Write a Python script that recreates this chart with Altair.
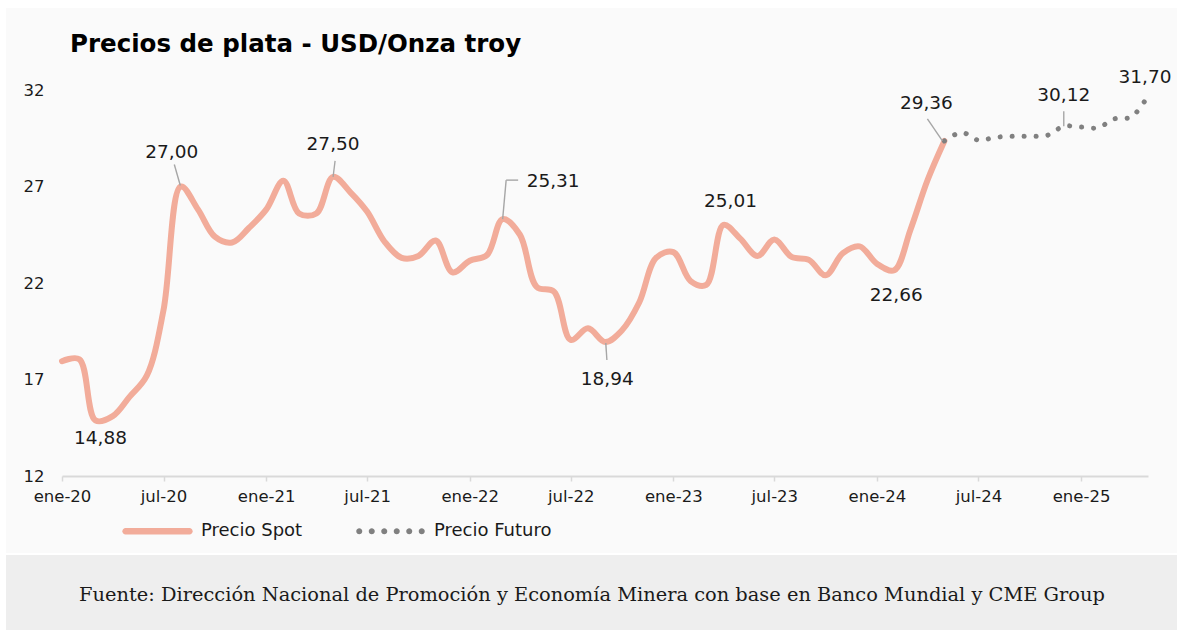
import altair as alt
import pandas as pd

# ---------------- data ----------------
spot_fechas = pd.date_range("2020-01-01", "2024-05-01", freq="MS").strftime("%Y-%m-%d").tolist()
spot_valores = [
    17.95, 18.05, 14.88, 15.10, 16.10, 17.20, 20.60, 27.00, 25.80, 24.40, 24.10, 24.85,  # 2020
    25.80, 27.30, 25.60, 25.60, 27.50, 26.70, 25.70, 24.15, 23.30, 23.40, 24.20, 22.55,  # 2021
    23.15, 23.45, 25.31, 24.50, 21.80, 21.55, 19.05, 19.65, 18.94, 19.55, 21.00, 23.30,  # 2022
    23.60, 22.10, 21.90, 25.01, 24.30, 23.40, 24.25, 23.35, 23.20, 22.40, 23.55, 23.90,  # 2023
    23.00, 22.66, 24.75, 27.35, 29.36,                                                  # 2024
]
futuro_fechas = pd.date_range("2024-05-01", "2025-05-01", freq="MS").strftime("%Y-%m-%d").tolist()
futuro_valores = [29.36, 29.80, 29.40, 29.55, 29.60, 29.60, 29.65, 30.12, 30.08, 30.05, 30.50, 30.60, 31.70]

series = ["Precio Spot", "Precio Futuro"]
y_ticks = [12, 17, 22, 27, 32]
x_tick_fechas = pd.date_range("2020-01-01", "2025-01-01", freq="6MS")
titulo = "Precios de plata - USD/Onza troy"
fuente = "Fuente: Dirección Nacional de Promoción y Economía Minera con base en Banco Mundial y CME Group"

# annotated points (date of the point)
ann_fechas = ["2020-03-01", "2020-08-01", "2021-05-01", "2022-03-01", "2022-09-01",
              "2023-04-01", "2024-02-01", "2024-05-01", "2024-12-01", "2025-05-01"]

df = pd.DataFrame({
    "fecha": spot_fechas + futuro_fechas,
    "valor": spot_valores + futuro_valores,
    "serie": [series[0]] * len(spot_fechas) + [series[1]] * len(futuro_fechas),
})
lookup = dict(zip(spot_fechas, spot_valores))
lookup.update({f: v for f, v in zip(futuro_fechas, futuro_valores) if f not in lookup})

# ---------------- style ----------------
FONT = "DejaVu Sans"
SPOT = "#F2AC9A"
FUT = "#808080"
LEAD = "#A6A6A6"
TXT = "#1A1A1A"
W, H = 1086, 386

x_scale = alt.Scale(type="utc", domain=[alt.DateTime(year=2020, month=1, date=1, utc=True),
                                        alt.DateTime(year=2025, month=5, date=1, utc=True)])
y_scale = alt.Scale(domain=[12, 32], nice=False, zero=False)

x_axis = alt.Axis(
    values=[alt.DateTime(year=d.year, month=d.month, date=1, utc=True) for d in x_tick_fechas],
    labelExpr="(utcmonth(datum.value) == 0 ? 'ene-' : 'jul-') + utcFormat(datum.value, '%y')",
    title=None, grid=False, domainColor="#D9D9D9", domainWidth=2, tickColor="#D9D9D9",
    tickWidth=1.5, tickSize=5, labelFontSize=16.5, labelFont=FONT, labelColor=TXT,
    labelPadding=7, labelFlush=False, labelOverlap=False, zindex=1,
)
y_axis = alt.Axis(values=y_ticks, title=None, grid=False, domain=False, ticks=False,
                  labelFontSize=16.5, labelFont=FONT, labelColor=TXT, labelPadding=18, zindex=1)

X = alt.X("fecha:T", scale=x_scale, axis=x_axis)
Y = alt.Y("valor:Q", scale=y_scale, axis=y_axis)

spot_line = alt.Chart(df).transform_filter(f"datum.serie == '{series[0]}'").mark_line(
    interpolate="catmull-rom", strokeCap="round", strokeJoin="round", color=SPOT, strokeWidth=6
).encode(x=X, y=Y)

fut_line = alt.Chart(df).transform_filter(f"datum.serie == '{series[1]}'").mark_line(
    interpolate="catmull-rom", strokeCap="round", strokeJoin="round", color=FUT, strokeWidth=5,
    strokeDash=[0.1, 11.9]
).encode(x=X, y=Y)

# legend symbols: a rounded bar and a row of dots (custom SVG paths)
r = 0.085
bar_path = "M-0.9,-0.09 L0.9,-0.09 A0.09,0.09 0 0,1 0.9,0.09 L-0.9,0.09 A0.09,0.09 0 0,1 -0.9,-0.09 Z"
dots_path = " ".join(
    f"M{c - r:.3f},0 A{r},{r} 0 1,0 {c + r:.3f},0 A{r},{r} 0 1,0 {c - r:.3f},0 Z"
    for c in [-0.88, -0.528, -0.176, 0.176, 0.528, 0.88]
)
leg = alt.Legend(title=None, orient="none", legendX=60, legendY=405.5, direction="horizontal",
                 symbolSize=5041, symbolOpacity=1, symbolStrokeWidth=0, labelFont=FONT,
                 labelFontSize=18, labelColor=TXT, labelOffset=8, columnPadding=52, padding=0)
legend_layer = alt.Chart(df).transform_filter("false").mark_point(filled=True, opacity=1).encode(
    x=alt.X("fecha:T", scale=x_scale), y=alt.Y("valor:Q", scale=y_scale),
    color=alt.Color("serie:N", scale=alt.Scale(domain=series, range=[SPOT, FUT]), legend=leg),
    shape=alt.Shape("serie:N", scale=alt.Scale(domain=series, range=[bar_path, dots_path]), legend=leg),
)

# decorative panels and free texts
one = pd.DataFrame({"k": [0]})
panel = alt.Chart(one).mark_rect(color="#FAFAFA").encode(
    x=alt.value(-56), x2=alt.value(W + 29), y=alt.value(-82), y2=alt.value(463))
footer_bg = alt.Chart(one).mark_rect(color="#EEEEEE").encode(
    x=alt.value(-56), x2=alt.value(W + 29), y=alt.value(465), y2=alt.value(540))
footer_txt = alt.Chart(one).mark_text(font="DejaVu Serif", fontSize=19.4, color=TXT,
                                      align="center", baseline="middle").encode(
    x=alt.value(530), y=alt.value(505), text=alt.value(fuente))
title_txt = alt.Chart(one).mark_text(font=FONT, fontSize=24.5, fontWeight="bold", color="#000000",
                                     align="left", baseline="alphabetic").encode(
    x=alt.value(8), y=alt.value(-38), text=alt.value(titulo))

# annotations: (dx, dy of label, align, leader segments as offsets from the point)
ann_style = {
    "2020-03-01": (5, 18, "center", []),
    "2020-08-01": (-9, -35, "center", [(-6.5, -22, -0.5, -1)]),
    "2021-05-01": (0, -33, "center", [(2, -16, 0, 0)]),
    "2022-03-01": (24, -38, "left", [(0, 0, 3.5, -39), (3.5, -39, 15.5, -39)]),
    "2022-09-01": (2, 37, "center", [(0.5, 1, 1.6, 18)]),
    "2023-04-01": (7, -23.5, "center", []),
    "2024-02-01": (2, 25, "center", []),
    "2024-05-01": (-18, -38, "center", [(-17, -22, -2, 0)]),
    "2024-12-01": (0, -31, "center", [(0, -15, 0, 0)]),
    "2025-05-01": (-3, -19, "center", []),
}

capas = [panel, footer_bg, footer_txt, title_txt, spot_line, fut_line, legend_layer]
for f in ann_fechas:
    v = lookup[f]
    d = pd.DataFrame({"fecha": [f], "valor": [v], "texto": [f"{v:.2f}".replace(".", ",")]})
    dx, dy, al, segs = ann_style[f]
    for (a, b, c, e) in segs:
        capas.append(alt.Chart(d).mark_rule(color=LEAD, strokeWidth=1.4, xOffset=a, yOffset=b,
                                            x2Offset=c, y2Offset=e).encode(
            x=alt.X("fecha:T", scale=x_scale), y=alt.Y("valor:Q", scale=y_scale),
            x2=alt.X2("fecha"), y2=alt.Y2("valor")))
    capas.append(alt.Chart(d).mark_text(font=FONT, fontSize=18.5, color=TXT, align=al,
                                        baseline="middle", dx=dx, dy=dy).encode(
        x=alt.X("fecha:T", scale=x_scale), y=alt.Y("valor:Q", scale=y_scale), text="texto:N"))

chart = alt.layer(*capas).properties(
    width=W, height=H,
    autosize=alt.AutoSizeParams(type="none"),
    padding={"left": 62, "top": 90, "right": 29, "bottom": 154},
    background="#FFFFFF",
).configure_view(stroke=None)

chart.save("out.html", embed_options={"renderer": "svg", "actions": False})
